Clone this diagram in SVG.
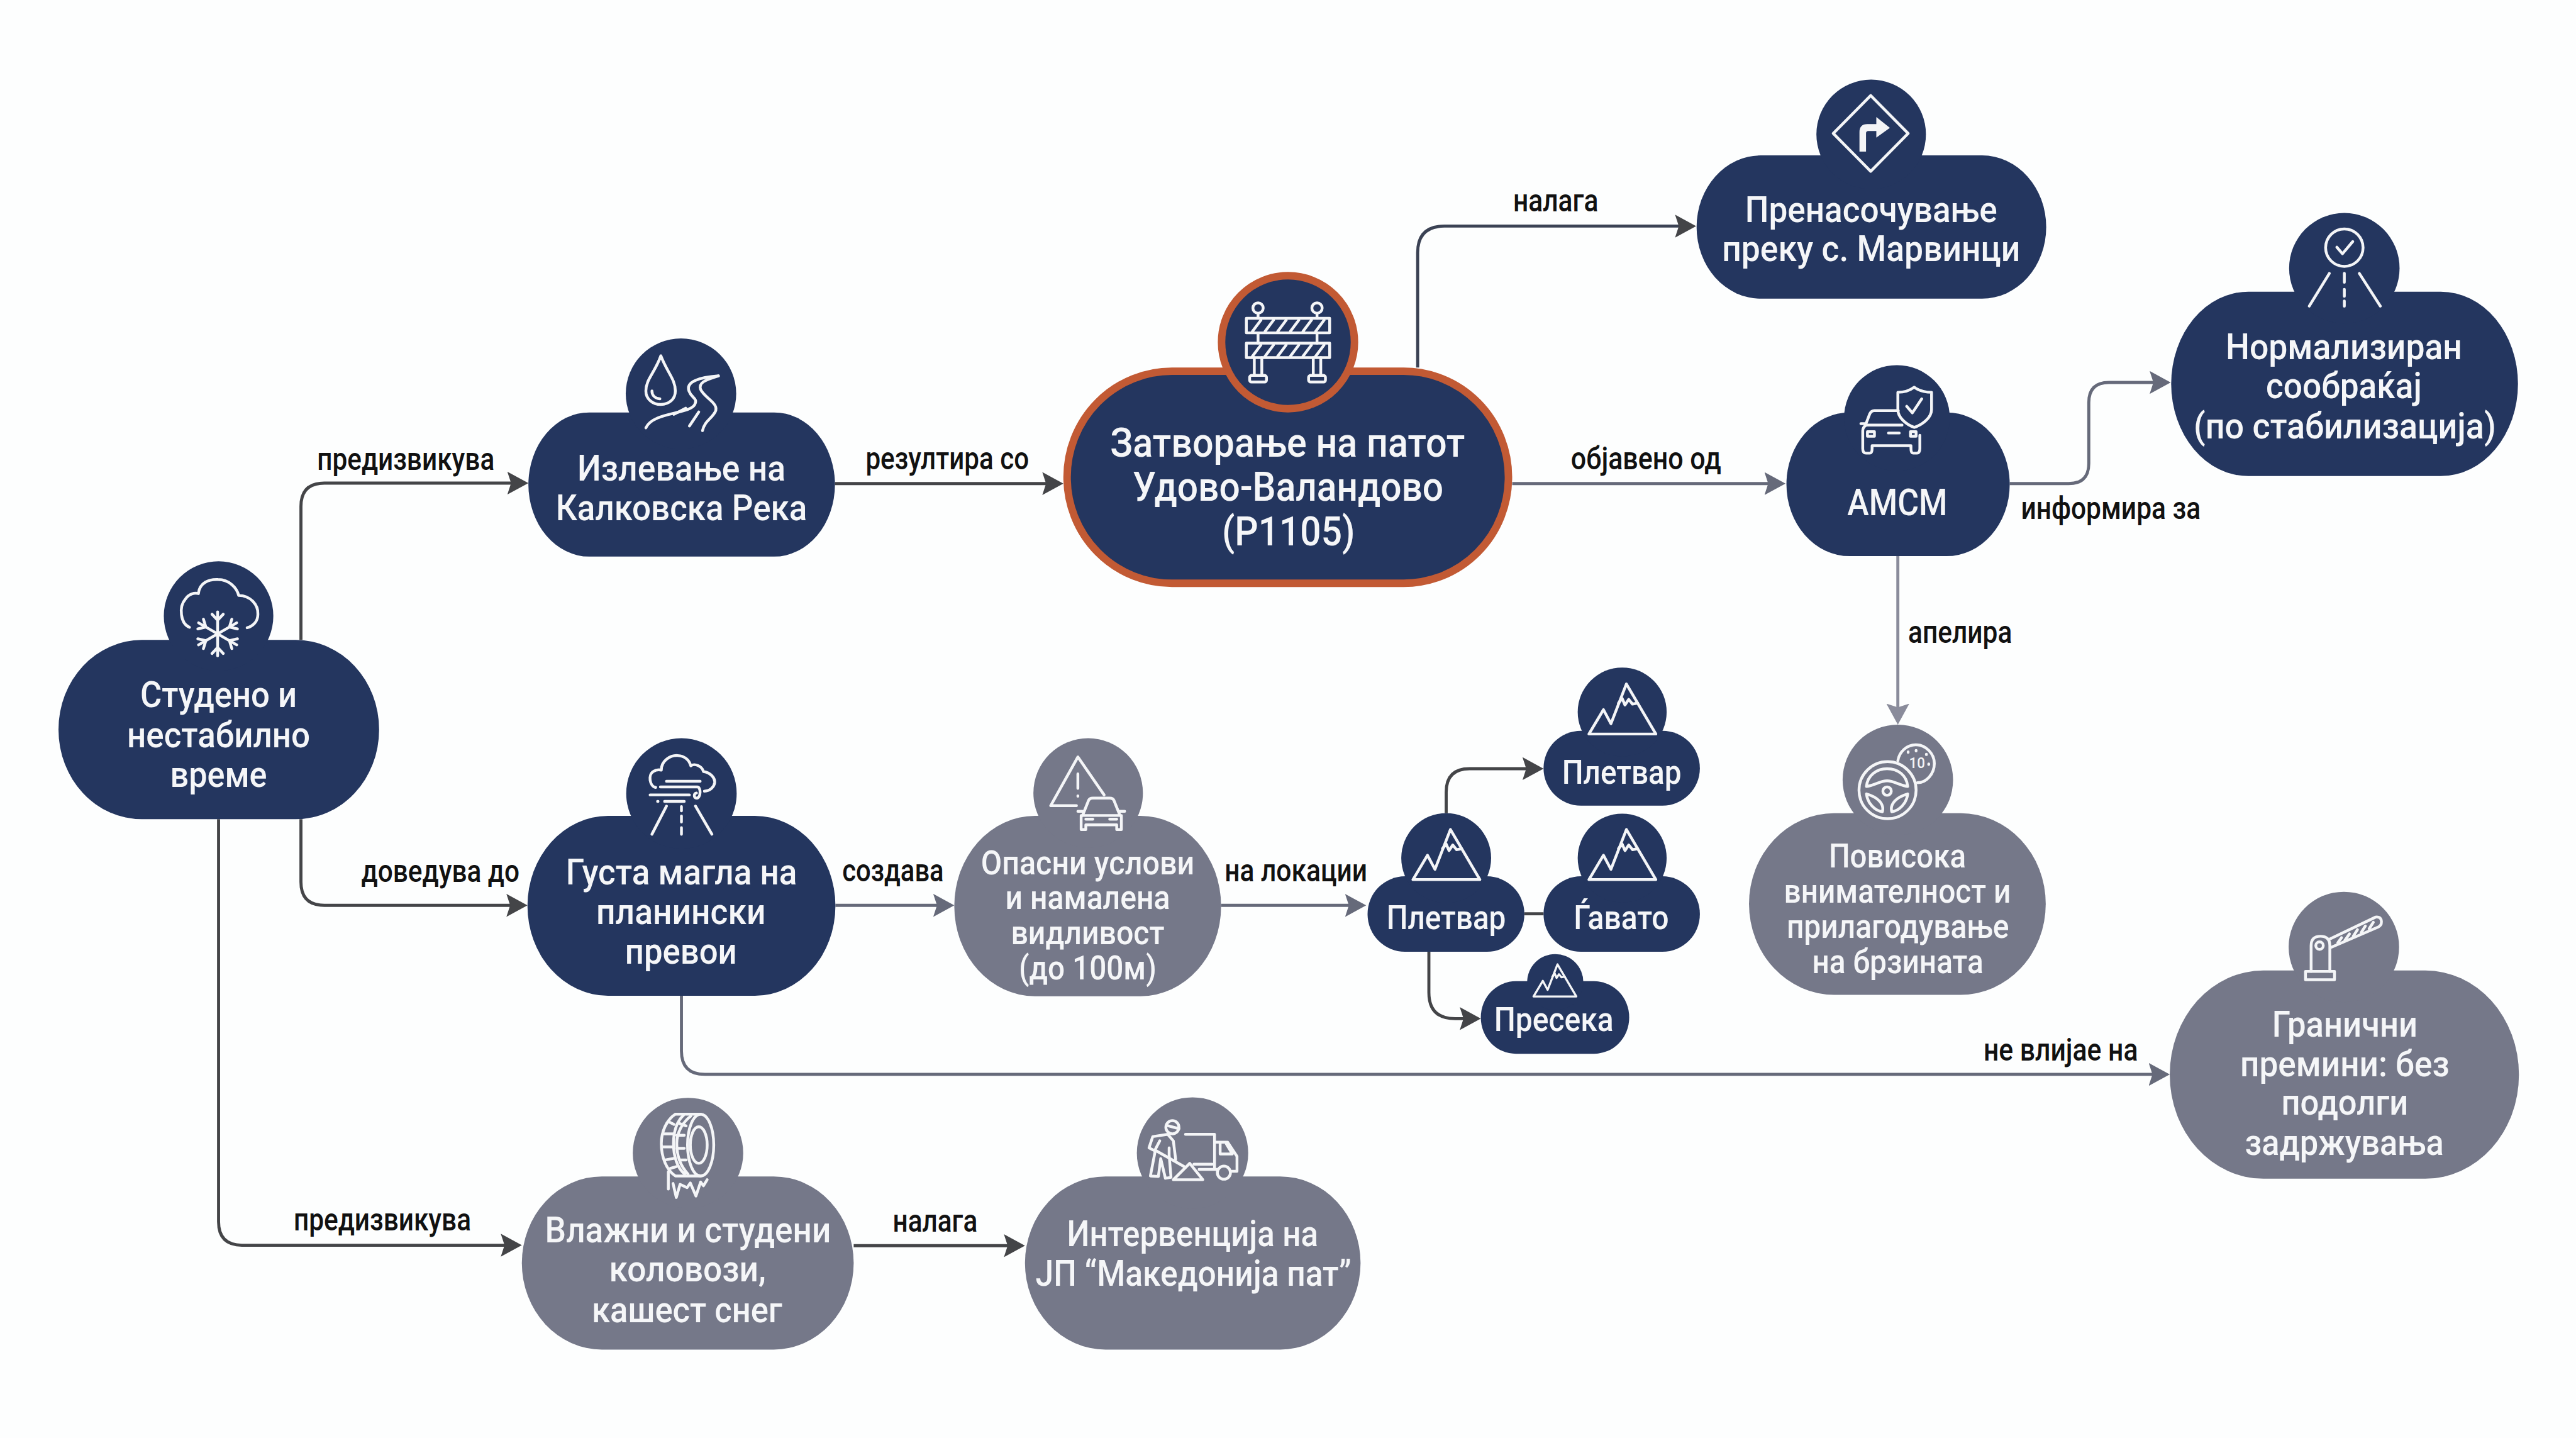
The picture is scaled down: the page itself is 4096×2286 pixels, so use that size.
<svg xmlns="http://www.w3.org/2000/svg" xmlns:xlink="http://www.w3.org/1999/xlink" width="4096" height="2286" viewBox="0 0 4096 2286">
<style>
.nav{fill:#24365f}.gry{fill:#757889}
.t{font-family:Roboto,"Liberation Sans",sans-serif;font-size:78px;font-weight:500;fill:#f5f6f8;text-anchor:middle}
.b{font-size:88px}.s{font-size:72px}
.l{font-family:Roboto,"Liberation Sans",sans-serif;font-size:67px;font-weight:500;fill:#111;text-anchor:middle}
.i{fill:none;stroke:#f4f5f7;stroke-width:6;stroke-linecap:round;stroke-linejoin:round}
.c{fill:none;stroke-width:6.5}
.dk{stroke:#444548}.mid{stroke:#666a7a}.lt{stroke:#8a8c9b}.nv{stroke:#3b4254}
.o{stroke:#c25a34;stroke-width:16}
</style>
<defs>
<marker id="ad" markerUnits="userSpaceOnUse" markerWidth="50" markerHeight="54" refX="37" refY="25" orient="auto"><path d="M0 0.5L45 25L0 49.5L8 25Z" fill="#444548"/></marker>
<marker id="am" markerUnits="userSpaceOnUse" markerWidth="50" markerHeight="54" refX="37" refY="25" orient="auto"><path d="M0 0.5L45 25L0 49.5L8 25Z" fill="#666a7a"/></marker>
<marker id="al" markerUnits="userSpaceOnUse" markerWidth="50" markerHeight="54" refX="37" refY="25" orient="auto"><path d="M0 0.5L45 25L0 49.5L8 25Z" fill="#8a8c9b"/></marker>
<g id="arm"><path d="M0 0V-47M-12 -42L0 -29L12 -42"/></g>
<g id="mt"><path d="M-71 54H72L9 -53L-24 32L-40 2Z"/><path d="M-8 -12L0 -22L6 -8L14 -20L22 -10L33 -12"/></g>
</defs>
<rect width="4096" height="2286" fill="#fdfefe"/>
<g transform="scale(0.74419)">
<g id="connectors">
<path class="c dk" marker-end="url(#ad)" d="M643 1367V1082Q643 1032 693 1032H1121"/>
<path class="c dk" marker-end="url(#ad)" d="M643 1750V1884Q643 1934 693 1934H1119"/>
<path class="c dk" marker-end="url(#ad)" d="M467 1750V2610Q467 2660 517 2660H1107"/>
<path class="c dk" marker-end="url(#ad)" d="M1784 1033H2264"/>
<path class="c nv" marker-end="url(#ad)" d="M3029 785V540Q3029 483 3086 483H3616"/>
<path class="c mid" marker-end="url(#am)" d="M3231 1033H3807"/>
<path class="c mid" marker-end="url(#am)" d="M4294 1033H4420Q4463 1033 4463 990V860Q4463 817 4506 817H4630"/>
<path class="c lt" marker-end="url(#al)" d="M4055 1188V1540"/>
<path class="c mid" marker-end="url(#am)" d="M1785 1934H2031"/>
<path class="c mid" marker-end="url(#am)" d="M2609 1934H2911"/>
<path class="c dk" marker-end="url(#ad)" d="M3090 1737V1692Q3090 1642 3140 1642H3290"/>
<path class="c dk" d="M3257 1952H3298"/>
<path class="c dk" marker-end="url(#ad)" d="M3053 2033V2120Q3053 2176 3109 2176H3156"/>
<path class="c mid" marker-end="url(#am)" d="M1456 2127V2245Q1456 2295 1506 2295H4628"/>
<path class="c dk" marker-end="url(#ad)" d="M1824 2661H2182"/>
<g id="edge-labels">
<text class="l" x="867" y="1004" textLength="379" lengthAdjust="spacingAndGlyphs">предизвикува</text>
<text class="l" x="2024" y="1003" textLength="349" lengthAdjust="spacingAndGlyphs">резултира со</text>
<text class="l" x="3324" y="452" textLength="182" lengthAdjust="spacingAndGlyphs">налага</text>
<text class="l" x="3517" y="1003" textLength="321" lengthAdjust="spacingAndGlyphs">објавено од</text>
<text class="l" x="4510" y="1108" textLength="384" lengthAdjust="spacingAndGlyphs">информира за</text>
<text class="l" x="4188" y="1373" textLength="222" lengthAdjust="spacingAndGlyphs">апелира</text>
<text class="l" x="941" y="1884" textLength="338" lengthAdjust="spacingAndGlyphs">доведува до</text>
<text class="l" x="1908" y="1882" textLength="217" lengthAdjust="spacingAndGlyphs">создава</text>
<text class="l" x="2769" y="1882" textLength="305" lengthAdjust="spacingAndGlyphs">на локации</text>
<text class="l" x="4403" y="2265" textLength="330" lengthAdjust="spacingAndGlyphs">не влијае на</text>
<text class="l" x="817" y="2629" textLength="379" lengthAdjust="spacingAndGlyphs">предизвикува</text>
<text class="l" x="1998" y="2631" textLength="181" lengthAdjust="spacingAndGlyphs">налага</text>
</g>
</g>

<g id="n-studeno">
<rect class="nav" x="125" y="1367" width="685" height="383" rx="178" ry="191"/><circle class="nav" cx="467" cy="1316" r="117"/>
<g class="i"><path d="M405 1340C385 1332 382 1296 396 1280C404 1268 416 1266 424 1268C426 1245 446 1237 466 1238C490 1238 506 1256 510 1272C535 1272 552 1292 551 1312C551 1328 540 1338 528 1341"/>
<use href="#arm" transform="translate(465 1354)"/><use href="#arm" transform="translate(465 1354) rotate(60)"/><use href="#arm" transform="translate(465 1354) rotate(120)"/><use href="#arm" transform="translate(465 1354) rotate(180)"/><use href="#arm" transform="translate(465 1354) rotate(240)"/><use href="#arm" transform="translate(465 1354) rotate(300)"/></g>
<text class="t" x="467" y="1510" textLength="335" lengthAdjust="spacingAndGlyphs">Студено и</text>
<text class="t" x="467" y="1596" textLength="391" lengthAdjust="spacingAndGlyphs">нестабилно</text>
<text class="t" x="467" y="1681" textLength="207" lengthAdjust="spacingAndGlyphs">време</text>
</g>

<g id="n-izlevanje">
<rect class="nav" x="1129" y="881" width="655" height="308" rx="130" ry="154"/><circle class="nav" cx="1455" cy="841" r="118"/>
<g class="i"><path d="M1412 760C1400 795 1380 810 1380 835C1380 853 1395 864 1412 864C1430 864 1443 852 1443 835C1443 810 1425 795 1412 760Z"/><path d="M1393 835C1393 845 1400 851 1410 852"/>
<path d="M1535 803C1495 806 1465 815 1472 835C1478 852 1492 850 1484 865C1472 885 1395 880 1380 914"/><path d="M1535 803C1505 812 1492 818 1497 832C1505 850 1538 862 1528 880C1520 895 1505 900 1501 920"/><path d="M1440 885L1465 872M1473 910L1493 880"/></g>
<text class="t" x="1456" y="1026" textLength="445" lengthAdjust="spacingAndGlyphs">Излевање на</text>
<text class="t" x="1456" y="1111" textLength="537" lengthAdjust="spacingAndGlyphs">Калковска Река</text>
</g>

<g id="n-zatvoranje">
<rect class="nav o" x="2280" y="793" width="943" height="453" rx="224" ry="226"/><circle class="nav o" cx="2752" cy="731" r="142"/>
<g class="i"><path d="M2688 670V680M2814 670V680M2688 711V733M2814 711V733M2680 764V802M2696 764V802M2806 764V802M2822 764V802"/><circle cx="2688" cy="658" r="11"/><circle cx="2814" cy="658" r="11"/><rect x="2663" y="680" width="178" height="31"/><rect x="2663" y="733" width="178" height="31"/><rect x="2670" y="802" width="36" height="14" rx="4"/><rect x="2796" y="802" width="36" height="14" rx="4"/>
<path d="M2676 708L2694 684M2703 708L2721 684M2730 708L2748 684M2757 708L2775 684M2784 708L2802 684M2811 708L2829 684M2676 761L2694 737M2703 761L2721 737M2730 761L2748 737M2757 761L2775 737M2784 761L2802 737M2811 761L2829 737"/></g>
<text class="t b" x="2751" y="976" textLength="758" lengthAdjust="spacingAndGlyphs">Затворање на патот</text>
<text class="t b" x="2752" y="1069" textLength="664" lengthAdjust="spacingAndGlyphs">Удово-Валандово</text>
<text class="t b" x="2753" y="1165" textLength="284" lengthAdjust="spacingAndGlyphs">(Р1105)</text>
</g>

<g id="n-prenasocuvanje">
<rect class="nav" x="3625" y="332" width="747" height="306" rx="137" ry="153"/><circle class="nav" cx="3998" cy="287" r="117"/>
<g class="i"><path d="M3997 204L4077 285L3997 366L3917 285Z"/></g>
<path fill="#f4f5f7" d="M3973 324V282Q3973 265 3990 265H4009V250L4038 273L4009 294V280H3992Q3987 280 3987 285V324Z"/>
<text class="t" x="3998" y="474" textLength="539" lengthAdjust="spacingAndGlyphs">Пренасочување</text>
<text class="t" x="3998" y="558" textLength="637" lengthAdjust="spacingAndGlyphs">преку с. Марвинци</text>
</g>

<g id="n-amsm">
<rect class="nav" x="3817" y="881" width="477" height="307" rx="135" ry="153"/><circle class="nav" cx="4053" cy="893" r="113"/>
<g class="i"><path d="M4090 827C4078 836 4066 838 4055 838V875C4055 893 4075 908 4090 913C4106 908 4127 893 4127 875V838C4115 838 4102 836 4090 827Z"/><path d="M4074 868L4086 882L4106 852"/>
<path d="M4056 877H4005Q3998 877 3995 884L3985 910M4102 930V958Q4102 968 4095 968H4088Q4083 968 4083 958V952H4000V958Q4000 968 3995 968H3987Q3980 968 3980 958V920Q3980 912 3988 908H4064"/><path d="M3976 905H3986M3990 922H4005V932H3990ZM4035 925H4058M4082 922H4094V932H4082Z"/></g>
<text class="t" x="4054" y="1100" textLength="214" lengthAdjust="spacingAndGlyphs" style="font-size:80px">АМСМ</text>
</g>

<g id="n-normaliziran">
<rect class="nav" x="4639" y="623" width="741" height="394" rx="165" ry="197"/><circle class="nav" cx="5009" cy="573" r="118"/>
<g class="i"><circle cx="5009" cy="529" r="40"/><path d="M4993 528L5005 542L5027 516M4977 584L4934 654M5041 584L5086 654M5009 584V603M5009 618V633M5009 643V654"/></g>
<text class="t" x="5008" y="767" textLength="505" lengthAdjust="spacingAndGlyphs">Нормализиран</text>
<text class="t" x="5008" y="851" textLength="333" lengthAdjust="spacingAndGlyphs">сообраќај</text>
<text class="t" x="5010" y="937" textLength="646" lengthAdjust="spacingAndGlyphs">(по стабилизација)</text>
</g>

<g id="n-gusta">
<rect class="nav" x="1127" y="1743" width="658" height="384" rx="172" ry="192"/><circle class="nav" cx="1456" cy="1695" r="118"/>
<g class="i"><path d="M1401 1682C1388 1680 1384 1655 1396 1648C1402 1644 1408 1644 1413 1645C1413 1625 1432 1613 1448 1614C1462 1615 1472 1622 1476 1636C1484 1630 1500 1636 1503 1648C1518 1650 1528 1662 1527 1672C1526 1680 1518 1690 1505 1690"/><path d="M1424 1669H1496M1411 1681H1490C1498 1681 1498 1705 1488 1705C1482 1705 1482 1695 1488 1694M1389 1698H1473M1420 1712H1462M1405 1712H1406M1424 1722L1393 1782M1486 1722L1521 1782M1456 1723V1732M1456 1743V1756M1456 1768V1782"/></g>
<text class="t" x="1456" y="1889" textLength="494" lengthAdjust="spacingAndGlyphs">Густа магла на</text>
<text class="t" x="1455" y="1974" textLength="362" lengthAdjust="spacingAndGlyphs">планински</text>
<text class="t" x="1455" y="2059" textLength="239" lengthAdjust="spacingAndGlyphs">превои</text>
</g>

<g id="n-opasni">
<rect class="gry" x="2039" y="1743" width="570" height="385" rx="172" ry="192"/><circle class="gry" cx="2325" cy="1694" r="117"/>
<g class="i"><path d="M2359 1698L2303 1617L2245 1721H2300M2303 1653V1684M2303 1700V1701"/><path d="M2313 1742L2325 1712Q2327 1705 2335 1705H2371Q2379 1705 2381 1712L2393 1742M2303 1733H2313M2393 1733H2403M2310 1742H2396V1772H2386V1762H2320V1772H2310ZM2320 1750H2335M2371 1750H2386"/></g>
<text class="t s" x="2324" y="1868" textLength="456" lengthAdjust="spacingAndGlyphs">Опасни услови</text>
<text class="t s" x="2324" y="1942" textLength="352" lengthAdjust="spacingAndGlyphs">и намалена</text>
<text class="t s" x="2324" y="2017" textLength="328" lengthAdjust="spacingAndGlyphs">видливост</text>
<text class="t s" x="2324" y="2092" textLength="294" lengthAdjust="spacingAndGlyphs">(до 100м)</text>
</g>

<g id="n-pletvar-main">
<rect class="nav" x="2922" y="1872" width="335" height="161" rx="80" ry="80"/><circle class="nav" cx="3090" cy="1833" r="96"/>
<use href="#mt" class="i" transform="translate(3090 1825)"/>
<text class="t s" x="3090" y="1985" textLength="255" lengthAdjust="spacingAndGlyphs">Плетвар</text>
</g>
<g id="n-pletvar-top">
<rect class="nav" x="3298" y="1561" width="334" height="160" rx="80" ry="80"/><circle class="nav" cx="3466" cy="1521" r="95"/>
<use href="#mt" class="i" transform="translate(3466 1514)"/>
<text class="t s" x="3465" y="1674" textLength="255" lengthAdjust="spacingAndGlyphs">Плетвар</text>
</g>
<g id="n-gyavato">
<rect class="nav" x="3298" y="1872" width="334" height="161" rx="80" ry="80"/><circle class="nav" cx="3466" cy="1833" r="95"/>
<use href="#mt" class="i" transform="translate(3466 1825)"/>
<text class="t s" x="3464" y="1985" textLength="203" lengthAdjust="spacingAndGlyphs">Ѓавато</text>
</g>
<g id="n-preseka">
<rect class="nav" x="3164" y="2096" width="317" height="155" rx="75" ry="77"/><circle class="nav" cx="3323" cy="2098" r="60"/>
<use href="#mt" class="i" style="stroke-width:7" transform="translate(3322 2094) scale(0.64)"/>
<text class="t s" x="3320" y="2202" textLength="255" lengthAdjust="spacingAndGlyphs">Пресека</text>
</g>

<g id="n-povisoka">
<rect class="gry" x="3737" y="1737" width="634" height="388" rx="182" ry="194"/><circle class="gry" cx="4055" cy="1666" r="118"/>
<g class="i"><path d="M4055 1625C4058 1605 4075 1591 4093 1591C4115 1591 4133 1610 4133 1631C4133 1653 4116 1672 4097 1672"/><circle cx="4033" cy="1688" r="61"/><circle cx="4032" cy="1690" r="9"/>
<path d="M3988 1680C3990 1656 4010 1642 4032 1642C4055 1642 4074 1656 4076 1680C4060 1678 4046 1668 4032 1668C4018 1668 4004 1678 3988 1680Z"/><path d="M3988 1696C3990 1716 4006 1732 4022 1734C4026 1720 4016 1704 3988 1696ZM4076 1696C4074 1716 4058 1732 4042 1734C4038 1720 4048 1704 4076 1696Z"/>
<path d="M4077 1606V1607M4094 1603V1604M4116 1611V1612M4121 1632V1633"/></g>
<text x="4096" y="1641" text-anchor="middle" style="font-family:Roboto,'Liberation Sans',sans-serif;font-size:33px;font-weight:500;fill:#f4f5f7" textLength="34" lengthAdjust="spacingAndGlyphs">10</text>
<text class="t s" x="4054" y="1853" textLength="293" lengthAdjust="spacingAndGlyphs">Повисока</text>
<text class="t s" x="4054" y="1928" textLength="485" lengthAdjust="spacingAndGlyphs">внимателност и</text>
<text class="t s" x="4055" y="2003" textLength="475" lengthAdjust="spacingAndGlyphs">прилагодување</text>
<text class="t s" x="4055" y="2079" textLength="366" lengthAdjust="spacingAndGlyphs">на брзината</text>
</g>

<g id="n-granicni">
<rect class="gry" x="4636" y="2073" width="746" height="445" rx="200" ry="222"/><circle class="gry" cx="5008" cy="2023" r="118"/>
<g class="i"><rect x="4926" y="2075" width="62" height="18"/><path d="M4938 2075V2020Q4938 2000 4958 2000Q4978 2000 4978 2020V2075"/><circle cx="4956" cy="2020" r="8"/><path d="M4978 2006L5076 1959Q5090 1958 5088 1972Q5088 1976 5082 1980L4980 2024"/><path d="M4995 2014L5003 2003M5010 2009L5020 1995M5028 2000L5037 1986M5045 1992L5054 1978M5062 1984L5071 1970"/></g>
<text class="t" x="5010" y="2215" textLength="311" lengthAdjust="spacingAndGlyphs">Гранични</text>
<text class="t" x="5010" y="2299" textLength="447" lengthAdjust="spacingAndGlyphs">премини: без</text>
<text class="t" x="5010" y="2381" textLength="271" lengthAdjust="spacingAndGlyphs">подолги</text>
<text class="t" x="5009" y="2467" textLength="425" lengthAdjust="spacingAndGlyphs">задржувања</text>
</g>

<g id="n-vlazni">
<rect class="gry" x="1115" y="2513" width="709" height="370" rx="171" ry="185"/><circle class="gry" cx="1470" cy="2463" r="118"/>
<g class="i"><ellipse cx="1497" cy="2446" rx="28" ry="66"/><ellipse cx="1493" cy="2446" rx="18" ry="39"/><path d="M1497 2380H1443C1424 2392 1413 2418 1413 2443C1413 2472 1424 2500 1443 2512H1497"/>
<path d="M1460 2383C1445 2396 1439 2420 1439 2443C1439 2470 1447 2495 1463 2508M1476 2384C1458 2398 1446 2420 1446 2443C1446 2470 1455 2492 1470 2508"/>
<path d="M1428 2396L1440 2402M1416 2422H1439M1414 2450H1439M1420 2478L1442 2474M1432 2496L1445 2492M1452 2400L1466 2405M1446 2425H1462M1446 2453H1462M1452 2478H1466"/>
<path d="M1428 2503V2540M1438 2528L1445 2558L1453 2530L1468 2537L1475 2527L1487 2555L1497 2525L1503 2533L1511 2520"/></g>
<text class="t" x="1470" y="2654" textLength="611" lengthAdjust="spacingAndGlyphs">Влажни и студени</text>
<text class="t" x="1469" y="2737" textLength="335" lengthAdjust="spacingAndGlyphs">коловози,</text>
<text class="t" x="1468" y="2824" textLength="407" lengthAdjust="spacingAndGlyphs">кашест снег</text>
</g>

<g id="n-intervencija">
<rect class="gry" x="2190" y="2513" width="717" height="370" rx="172" ry="185"/><circle class="gry" cx="2548" cy="2463" r="119"/>
<g class="i"><circle cx="2505" cy="2408" r="14"/><path d="M2493 2404L2519 2411"/>
<path d="M2495 2423L2463 2428L2455 2452L2467 2458L2478 2437M2495 2423L2507 2437L2512 2477M2468 2460L2458 2512L2475 2513L2480 2475L2490 2517L2502 2515L2498 2467L2498 2452M2470 2458L2530 2492"/>
<path d="M2542 2485L2507 2520H2570Z"/>
<path d="M2533 2423H2595V2497M2551 2487H2590M2562 2498H2603M2597 2440H2623L2643 2470V2502H2632M2607 2443V2465H2633L2620 2443"/><circle cx="2615" cy="2505" r="14"/></g>
<text class="t" x="2548" y="2662" textLength="537" lengthAdjust="spacingAndGlyphs">Интервенција на</text>
<text class="t" x="2550" y="2746" textLength="675" lengthAdjust="spacingAndGlyphs">ЈП “Македонија пат”</text>
</g>
</g>
</svg>
